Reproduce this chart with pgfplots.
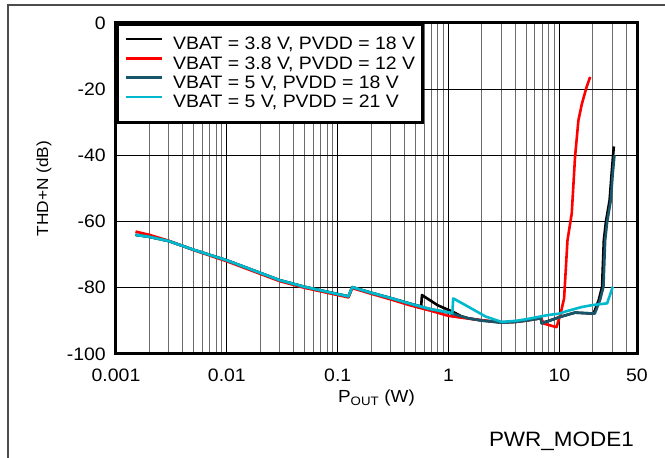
\documentclass[border=0pt]{standalone}
\usepackage{fontspec}
\setmainfont{Liberation Sans}[FakeStretch=1.08]
\usepackage{pgfplots}
\pgfplotsset{compat=1.18}
\definecolor{tealc}{RGB}{25,85,105}
\definecolor{cyanc}{RGB}{0,185,205}
\begin{document}
\begin{tikzpicture}[x=1pt,y=1pt]
\path[use as bounding box] (0,0) rectangle (665,458);
\draw[line width=1.2pt, black!70] (8,0) -- (8,453) -- (665,453);
\begin{axis}[at={(116pt,104pt)}, anchor=south west, scale only axis,
  width=521pt, height=331pt,
  xmode=log, xmin=0.001, xmax=50, ymin=-100, ymax=0,
  xtick={0.001,0.01,0.1,1,10,50}, xticklabels={0.001,0.01,0.1,1,10,50},
  minor xtick={0.002,0.003,0.004,0.005,0.006,0.007,0.008,0.009,0.02,0.03,0.04,0.05,0.06,0.07,0.08,0.09,0.2,0.3,0.4,0.5,0.6,0.7,0.8,0.9,2,3,4,5,6,7,8,9,20,30,40},
  ytick={-100,-80,-60,-40,-20,0}, yticklabels={-100,-80,-60,-40,-20,0},
  grid=both, major grid style={black, line width=0.9pt}, minor grid style={black!58, line width=1pt},
  major tick length=0pt, minor tick length=0pt,
  axis line style={line width=3pt},
  tick label style={font=\fontsize{18}{20}\selectfont, inner sep=0pt},
  xticklabel style={anchor=base, yshift=-28pt},
  yticklabel style={anchor=east, xshift=-10pt},
  xlabel={P\textsubscript{OUT} (W)}, ylabel={THD+N (dB)},
  xlabel style={at={(axis description cs:0.5,0)}, anchor=base, yshift=-49pt, inner sep=0pt, font=\fontsize{17.5}{19}\selectfont},
  ylabel style={at={(axis description cs:0,0.5)}, anchor=center, rotate=0, yshift=72pt, inner sep=0pt, font=\fontsize{16}{18}\selectfont},
  legend style={at={(0,1)}, anchor=north west, draw=black, line width=3pt, fill=white,
    font=\fontsize{18}{20}\selectfont, inner xsep=7pt, inner ysep=11.5pt, row sep=2.3pt, column sep=0pt,
    nodes={inner sep=0pt, text height=14pt, text depth=3pt}},
  legend cell align=left,
  legend image code/.code={\draw[#1, line width=2.6pt] (0pt,5.5pt) -- (36pt,5.5pt); \path (46pt,5.5pt);},
  every axis plot/.append style={line width=2.6pt, line join=round, no markers},
]
\addplot[black] coordinates {
(0.0015,-64.0) (0.002,-64.6) (0.003,-65.9) (0.005,-68.5) (0.01,-71.7) (0.02,-75.5)
(0.03,-77.7) (0.05,-79.7) (0.1,-81.9) (0.125,-82.6) (0.135,-79.8) (0.2,-81.5)
(0.3,-83.1) (0.45,-84.8) (0.565,-85.7) (0.575,-82.2) (0.8,-85.3) (1.1,-87.3)
(1.3,-88.6) (1.5,-89.2) (2,-89.9) (3,-90.5) (4,-90.3) (5,-89.9) (6.8,-89.2)
(6.9,-90.6) (8,-90.0) (10.3,-88.7) (13.8,-87.5) (20.3,-87.8) (22.6,-83.7)
(24.2,-79.7) (25.1,-65.7) (26.2,-60.1) (28.3,-53.6) (29.5,-45.6) (30.9,-37.3)};
\addlegendentry{VBAT = 3.8 V, PVDD = 18 V}
\addplot[red] coordinates {
(0.0015,-63.0) (0.002,-64.0) (0.003,-65.8) (0.005,-68.6) (0.01,-72.0) (0.02,-75.8)
(0.03,-78.0) (0.05,-80.0) (0.1,-82.2) (0.125,-82.9) (0.135,-80.1) (0.2,-81.8)
(0.3,-83.5) (0.45,-85.3) (0.7,-87.0) (1.0,-88.5) (1.5,-89.3) (2,-89.8) (3,-90.4)
(4,-90.3) (5,-89.9) (6.8,-89.1) (7.2,-90.8) (9.4,-91.9) (10.2,-88.0) (11,-83.2)
(11.8,-65.7) (12.9,-57.5) (13.8,-40.6) (14.8,-29.5) (15.9,-24.5) (17.5,-19.5) (18.9,-16.3)};
\addlegendentry{VBAT = 3.8 V, PVDD = 12 V}
\addplot[tealc] coordinates {
(0.0015,-64.0) (0.002,-64.6) (0.003,-65.9) (0.005,-68.5) (0.01,-71.7) (0.02,-75.5)
(0.03,-77.7) (0.05,-79.7) (0.1,-81.9) (0.125,-82.6) (0.135,-79.8) (0.2,-81.5)
(0.3,-83.1) (0.45,-84.8) (0.565,-85.7) (0.7,-86.5) (1.0,-87.5) (1.2,-88.3)
(1.5,-89.2) (2,-89.9) (3,-90.5) (4,-90.3) (5,-89.9) (6.8,-89.2) (6.9,-90.8)
(8,-90.0) (10.4,-88.7) (13.8,-87.5) (20.8,-87.8) (23.2,-83.7) (24.9,-79.7)
(25.8,-65.7) (26.9,-60.1) (29,-53.6) (30.2,-45.6) (31.3,-40.0)};
\addlegendentry{VBAT = 5 V, PVDD = 18 V}
\addplot[cyanc] coordinates {
(0.0015,-64.0) (0.002,-64.6) (0.003,-65.9) (0.005,-68.5) (0.01,-71.7) (0.02,-75.5)
(0.03,-77.7) (0.05,-79.7) (0.1,-81.9) (0.125,-82.6) (0.135,-79.8) (0.2,-81.5)
(0.3,-83.1) (0.45,-84.8) (0.565,-85.7) (0.7,-86.5) (1.0,-87.4) (1.08,-87.7)
(1.1,-83.2) (1.5,-85.7) (2.16,-88.7) (3,-90.3) (4,-90.0) (5,-89.5) (6.9,-88.6)
(8,-88.2) (10,-87.8) (11.2,-87.2) (15.9,-85.8) (20,-85.2) (26.9,-84.7) (30.2,-79.7)};
\addlegendentry{VBAT = 5 V, PVDD = 21 V}
\end{axis}
\node[anchor=base east, font=\fontsize{20.8}{24}\selectfont, inner sep=0pt] at (634,11) {PWR\_MODE1};
\end{tikzpicture}
\end{document}
